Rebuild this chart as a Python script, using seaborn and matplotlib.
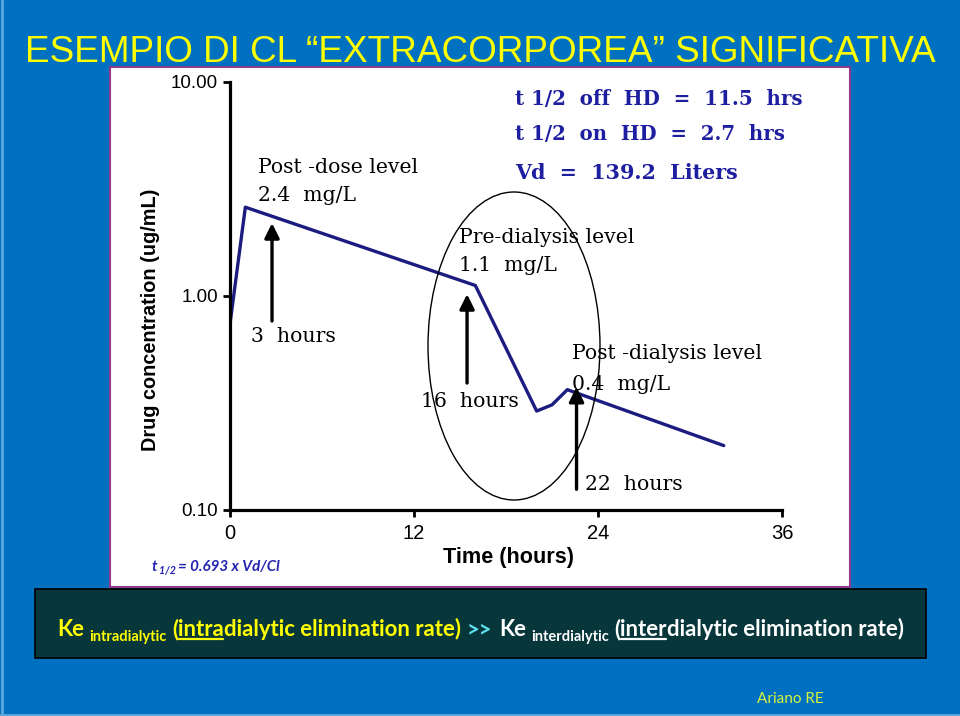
import matplotlib
matplotlib.use('Agg')
import matplotlib.pyplot as plt
import seaborn as sns
import pandas as pd
from matplotlib.patches import Rectangle, Ellipse
from matplotlib.lines import Line2D
from matplotlib.ticker import FixedLocator, NullLocator, FixedFormatter

# ---------------- data ----------------
time_hours = [0, 1, 16, 20, 21, 22, 32.2]
drug_conc = [0.74, 2.6, 1.12, 0.29, 0.31, 0.365, 0.20]
x_ticks = [0, 12, 24, 36]
x_tick_labels = ["0", "12", "24", "36"]
y_ticks = [0.1, 1, 10]
y_tick_labels = ["0.10", "1.00", "10.00"]

sns.set_style("ticks")
plt.rcParams['font.family'] = ['Liberation Sans', 'DejaVu Sans']

W, H = 960, 716
fig = plt.figure(figsize=(9.6, 7.16), dpi=100, facecolor='#0070C0')
renderer = fig.canvas.get_renderer()


def fx(px):
    return px / W


def fy(py):
    return 1 - py / H


# light slide edge
fig.add_artist(Line2D([fx(1.5), fx(1.5)], [0, 1], color='#5FA6DC', lw=2, zorder=-2))
fig.add_artist(Line2D([0, 1], [fy(714.5), fy(714.5)], color='#5FA6DC', lw=2, zorder=-2))

# white chart panel
fig.add_artist(Rectangle((fx(110), fy(587)), 740 / W, 520 / H, transform=fig.transFigure,
                         facecolor='white', edgecolor='#8E3A8E', lw=1.5, zorder=-1))

# dark text box
fig.add_artist(Rectangle((fx(35), fy(658)), 891 / W, 69 / H, transform=fig.transFigure,
                         facecolor='#07363B', edgecolor='black', lw=1.2, zorder=-1))

# ---------------- axes ----------------
ax = fig.add_axes([fx(230), fy(510), (782 - 230) / W, 428 / H])
ax.set_facecolor('none')
df = pd.DataFrame({'Time (hours)': time_hours, 'conc': drug_conc})
sns.lineplot(data=df, x='Time (hours)', y='conc', ax=ax, color='#1C1C80', lw=2.4, sort=False)
ax.set_yscale('log')
ax.set_xlim(0, 36)
ax.set_ylim(0.1, 10)
ax.yaxis.set_major_locator(FixedLocator(y_ticks))
ax.yaxis.set_major_formatter(FixedFormatter(y_tick_labels))
ax.yaxis.set_minor_locator(NullLocator())
ax.xaxis.set_major_locator(FixedLocator(x_ticks))
ax.xaxis.set_major_formatter(FixedFormatter(x_tick_labels))
ax.set_xlabel('')
ax.set_ylabel('')
for s in ['top', 'right']:
    ax.spines[s].set_visible(False)
for s in ['left', 'bottom']:
    ax.spines[s].set_linewidth(2.3)
    ax.spines[s].set_color('black')
ax.tick_params(axis='y', length=5, width=2, pad=3.5, labelsize=13.5, colors='black')
ax.tick_params(axis='x', length=5, width=2, pad=5, labelsize=14.5, colors='black')
for lab in ax.get_xticklabels():
    lab.set_family(['Liberation Sans Narrow', 'Liberation Sans'])

# arrows
for xa, ytip, ytail in [(2.74, 2.19, 0.764), (15.46, 1.02, 0.392), (22.6, 0.376, 0.125)]:
    ax.annotate('', xy=(xa, ytip), xytext=(xa, ytail),
                arrowprops=dict(arrowstyle='-|>', color='black', lw=2.4, mutation_scale=22,
                                shrinkA=0, shrinkB=0))

# ellipse
fig.add_artist(Ellipse((fx(514), fy(346)), 172 / W, 308 / H, transform=fig.transFigure,
                       facecolor='none', edgecolor='black', lw=1.0, zorder=5))


def fit_text(s, x, y, width, size0=14, ha='left', va='baseline', rotation=0, **kw):
    t = fig.text(fx(x), fy(y), s, fontsize=size0, ha=ha, va=va, rotation=rotation, zorder=6, **kw)
    bb = t.get_window_extent(renderer)
    w = bb.height if rotation == 90 else bb.width
    t.set_fontsize(size0 * width / w)
    return t


def text_row(pieces, x0, y0, target_width, base_size, family, style='normal', ul_color=None):
    def build(scale):
        arts = []
        x = x0
        for s, c, rs, dy, ul, gap in pieces:
            t = fig.text(fx(x), fy(y0 + dy), s, color=c, fontsize=base_size * rs * scale,
                         fontweight='bold', fontstyle=style, family=family,
                         va='baseline', ha='left', zorder=6)
            bb = t.get_window_extent(renderer)
            arts.append((t, bb, ul, c))
            x += bb.width + gap * scale
        return arts, x - x0

    arts, w = build(1.0)
    for a in arts:
        a[0].remove()
    arts, w = build(target_width / w)
    for t, bb, ul, c in arts:
        if ul:
            fig.add_artist(Line2D([fx(bb.x0 + 1), fx(bb.x1 - 1)], [fy(y0 + 3)] * 2,
                                  color=c, lw=1.6, zorder=6))


# title
fit_text('ESEMPIO DI CL \u201cEXTRACORPOREA\u201d SIGNIFICATIVA', 25, 62, 912, size0=30,
         color='#FFFF00', family=['Liberation Sans Narrow', 'Liberation Sans'])

# axis labels
fit_text('Drug concentration (ug/mL)', 150, 320, 260, size0=13, ha='center', va='center',
         rotation=90, fontweight='bold', color='black')
fit_text('Time (hours)', 509, 557, 130, size0=13, ha='center', va='center',
         fontweight='bold', color='black')

# black serif annotations
serif = ['DejaVu Serif']
ann_size = 12
probe = fig.text(0, 0, 'Post -dialysis level', fontsize=ann_size, family=serif)
ann_size = ann_size * 188 / probe.get_window_extent(renderer).width
probe.remove()
for s, x, y in [('Post -dose level', 258, 173), ('2.4  mg/L', 258, 201), ('3  hours', 251, 342),
                ('Pre-dialysis level', 459, 243), ('1.1  mg/L', 459, 271), ('16  hours', 421, 407),
                ('Post -dialysis level', 572, 359), ('0.4  mg/L', 572, 390), ('22  hours', 585, 490)]:
    fig.text(fx(x), fy(y), s, fontsize=ann_size, family=serif, color='black',
             va='baseline', ha='left', zorder=6)

# blue parameters
blue = '#1E1EA0'
fit_text('t 1/2  off  HD  =  11.5  hrs', 515, 105, 288, size0=14, family=serif,
         fontweight='bold', color=blue)
fit_text('t 1/2  on  HD  =  2.7  hrs', 515, 140, 270, size0=14, family=serif,
         fontweight='bold', color=blue)
fit_text('Vd  =  139.2  Liters', 515, 179, 224, size0=14, family=serif,
         fontweight='bold', color=blue)

# formula
text_row([('t', '#2424B0', 1, 0, False, 2), ('1/2', '#2424B0', 0.7, 3, False, 2),
          ('= 0.693 x Vd/Cl', '#2424B0', 1, 0, False, 0)],
         152, 571, 128, 11, ['Lato', 'DejaVu Sans'], style='italic')

# bottom statement
Y = '#FFFF00'
Wt = 'white'
text_row([('Ke', Y, 1, 0, False, 5), ('intradialytic', Y, 0.66, 5, False, 5),
          ('(', Y, 1, 0, False, 0), ('intra', Y, 1, 0, True, 0),
          ('dialytic elimination rate)', Y, 1, 0, False, 6),
          ('>>', '#5FE3F0', 1, 0, False, 6),
          ('Ke', Wt, 1, 0, False, 5), ('interdialytic', Wt, 0.66, 5, False, 5),
          ('(', Wt, 1, 0, False, 0), ('inter', Wt, 1, 0, True, 0),
          ('dialytic elimination rate)', Wt, 1, 0, False, 0)],
         57, 636, 848, 15, ['Lato', 'DejaVu Sans'])

fig.text(fx(757), fy(703), 'Ariano RE', fontsize=11, family=['Lato', 'DejaVu Sans'],
         color='#D6F53C', va='baseline', ha='left')

fig.savefig('out.png', dpi=100, facecolor=fig.get_facecolor())
